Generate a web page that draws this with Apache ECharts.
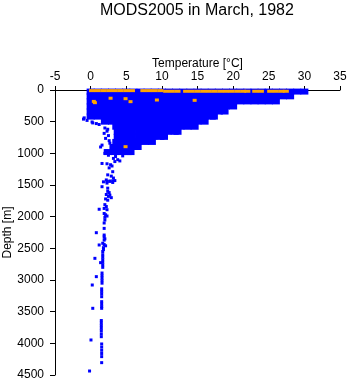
<!DOCTYPE html>
<html>
<head>
<meta charset="utf-8">
<script src="https://cdn.jsdelivr.net/npm/echarts@6/dist/echarts.min.js"></script>
<style>html,body{margin:0;padding:0;background:#fff}#c{width:348px;height:384px}</style>
</head>
<body>
<div id="c"></div>
<script>
// Dense core of the profile cloud: one row per depth level, temperatures
const denseDepths = [25, 100, 180, 260, 340, 420, 500, 580, 660, 740, 820, 900, 980];
const denseTemps = [
  [0,1,2,3,4,5,6,7,8,9,10,11,12,13,14,15,16,17,18,19,20,21,22,23,24,25,26,27,28,29,30],
  [0,1,2,3,4,5,6,7,8,9,10,11,12,13,14,15,16,17,18,19,20,21,22,23,24,25,26,27,28],
  [0,1,2,3,4,5,6,7,8,9,10,11,12,13,14,15,16,17,18,19,20,21,22,23,24,25,26],
  [0,1,2,3,4,5,6,7,8,9,10,11,12,13,14,15,16,17,18,19,20],
  [0,1,2,3,4,5,6,7,8,9,10,11,12,13,14,15,16,17,18,18.8],
  [0,1,2,3,4,5,6,7,8,9,10,11,12,13,14,15,16,17,17.3],
  [2,3,4,5,6,7,8,9,10,11,12,13,14,15,16],
  [3.6,4.6,5.6,6.6,7.6,8.6,9.6,10.6,11.6,12.6,13.6,14.6],
  [3.8,4.8,5.8,6.8,7.8,8.8,9.8,10.8,11.8,12.2],
  [3.8,4.8,5.8,6.8,7.8,8.8,9.8,10.3],
  [3.6,4.6,5.6,6.6,7.6,8.6],
  [3.2,4.2,5.2,6.2,6.6],
  [2.4,3.4,4.4,5.2,5.6]
];
// Individual scattered blue points (edges, left lobes and the deep tail)
const sparseTemp = [-1.0,-0.9,-0.5,0.2,0.3,0.8,1.2,
  2.0,2.4,1.9,2.1,2.5,1.6,1.4,2.6,2.2,2.0,2.3,2.7,
  2.5,3.5,4.5,3.2,3.8,4.1,3.4,1.6,2.3,2.8,3.0,2.6,3.1,2.4,2.9,3.2,2.2,2.7,3.1,2.3,1.6,2.4,
  1.8,2.3,2.7,3.1,3.4,
  2.4,2.6,2.2,2.5,2.9,2.1,2.4,2.7,
  2.0,2.2,1.9,2.3,1.2,
  1.9,2.1,2.3,2.0,
  2.0,1.9,1.9,0.8,1.9,1.9,2.0,1.9,1.7,1.9,2.1,1.8,1.8,1.7,1.2,
  1.7,1.7,1.7,1.7,1.7,1.7,0.6,1.4,
  1.6,1.6,1.6,1.6,1.6,0.8,0.23,
  1.55,1.55,1.55,1.55,1.55,1.55,1.55,1.55,0.3,
  1.5,1.5,1.5,1.5,1.5,1.5,1.5,0.05,
  1.55,1.55,1.55,1.55,1.55,1.55,-0.15];
const sparseDepth = [460,440,480,505,520,530,545,
  600,620,685,764,720,870,900,800,960,1000,650,840,
  1030,1050,1040,1080,1100,1120,1130,1160,1165,1180,1200,1230,1290,1340,1360,1390,1420,1440,1460,1470,1527,1550,
  1450,1445,1440,1435,1430,
  1600,1620,1650,1680,1700,1720,1740,1660,
  1810,1840,1870,1890,1883,
  1950,1970,1990,2010,
  2053,2100,2185,2253,2290,2320,2350,2370,2420,2440,2460,2490,2520,2550,2447,
  2600,2640,2680,2720,2760,2800,2658,2726,
  2890,2930,2970,3010,3050,2947,3079,
  3140,3180,3220,3264,3342,3380,3420,3447,3447,
  3640,3680,3720,3760,3800,3850,3895,3947,
  4010,4060,4110,4160,4210,4305,4437];
// Orange points along the surface row
const orangeRowTemp = [0.2,1.0,1.8,2.6,3.4,4.2,5.0,5.8,7.4,8.2,9.0,9.8,
  10.6,11.4,12.2,13.4,14.2,15.0,15.8,16.6,17.4,18.2,19.0,19.8,20.6,21.4,22.0,23.1,23.9,25.2,26.0,26.8,27.4];
const orangeRowDepth = [10,10,10,10,10,10,10,10,10,10,10,10,
  20,20,20,20,20,20,20,20,20,20,20,20,20,20,20,20,20,20,20,20,20];
// Isolated orange points below the surface
const orangeTemp = [0.45,0.6,2.8,4.9,5.6,9.3,14.6,4.9];
const orangeDepth = [180,200,130,137,184,158,163,895];

const denseData = [];
denseDepths.forEach((d, i) => denseTemps[i].forEach(t => denseData.push([t, d])));
const sparseData = sparseTemp.map((t, i) => [t, sparseDepth[i]]);
const orangeRowData = orangeRowTemp.map((t, i) => [t, orangeRowDepth[i]]);
const orangeData = orangeTemp.map((t, i) => [t, orangeDepth[i]]);

const chart = echarts.init(document.getElementById('c'), null, {renderer: 'canvas'});
const font = 'Liberation Sans, Arial, Helvetica, sans-serif';
const plain = v => String(v);
const solid = c => ({color: c, opacity: 1, borderWidth: 0});
chart.setOption({
  animation: false,
  backgroundColor: '#fff',
  title: {
    text: 'MODS2005 in March, 1982',
    left: 100, top: 3, padding: 0,
    textStyle: {fontFamily: font, fontSize: 16, fontWeight: 'normal', color: '#000'}
  },
  grid: {left: 55, right: 8, top: 90, bottom: 9, containLabel: false, outerBoundsMode: 'none'},
  xAxis: {
    type: 'value', position: 'top', min: -5, max: 35, interval: 5,
    name: 'Temperature [°C]', nameLocation: 'middle', nameGap: 20, nameMoveOverlap: false,
    nameTextStyle: {fontFamily: font, fontSize: 12, color: '#000'},
    axisLine: {show: true, onZero: false, lineStyle: {color: '#000', width: 1}},
    axisTick: {show: true, length: 4, lineStyle: {color: '#000'}},
    axisLabel: {fontFamily: font, fontSize: 12, color: '#000', margin: 7, formatter: plain},
    splitLine: {show: false}
  },
  yAxis: {
    type: 'value', inverse: true, min: 0, max: 4500, interval: 500,
    name: 'Depth [m]', nameLocation: 'middle', nameGap: 41, nameMoveOverlap: false,
    nameTextStyle: {fontFamily: font, fontSize: 12, color: '#000'},
    axisLine: {show: true, onZero: false, lineStyle: {color: '#000', width: 1}},
    axisTick: {show: true, length: 5, lineStyle: {color: '#000'}},
    axisLabel: {fontFamily: font, fontSize: 12, color: '#000', margin: 11, formatter: plain},
    splitLine: {show: false}
  },
  series: [
    {type: 'scatter', data: denseData, symbol: 'rect', symbolSize: [8, 6],
     itemStyle: solid('#0000ff'), silent: true},
    {type: 'scatter', data: sparseData, symbol: 'rect', symbolSize: [3, 3],
     itemStyle: solid('#0000ff'), silent: true},
    {type: 'scatter', data: orangeRowData, symbol: 'rect', symbolSize: [6, 3],
     itemStyle: solid('#ffa500'), silent: true},
    {type: 'scatter', data: orangeData, symbol: 'rect', symbolSize: [4, 3],
     itemStyle: solid('#ffa500'), silent: true}
  ]
});
</script>
</body>
</html>
